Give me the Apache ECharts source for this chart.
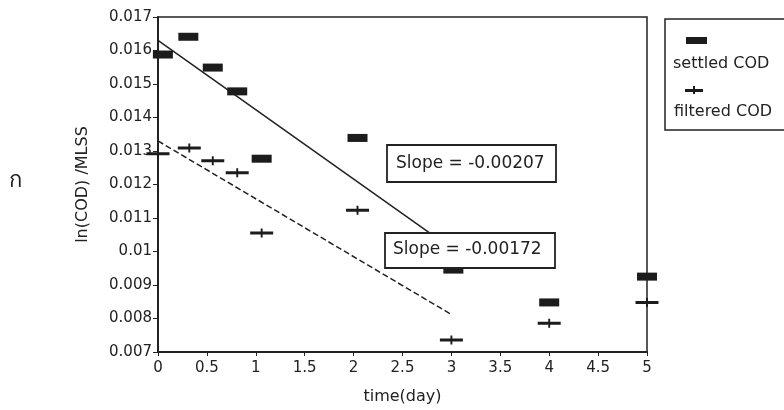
<!DOCTYPE html>
<html>
<head>
<meta charset="utf-8">
<script src="https://cdn.jsdelivr.net/npm/echarts@6/dist/echarts.min.js"></script>
<style>
  html, body { margin: 0; padding: 0; background: #fff; }
  #chart { width: 784px; height: 410px; }
</style>
</head>
<body>
<div id="chart"></div>
<script>
// data
var settledTime = [0.05, 0.31, 0.56, 0.81, 1.06, 2.04, 3.02, 4, 5];
var settledVal = [0.01588, 0.01641, 0.01549, 0.01478, 0.01277, 0.01339, 0.00946, 0.00848, 0.00925];
var filteredTime = [0, 0.32, 0.56, 0.81, 1.06, 2.04, 3, 4, 5];
var filteredVal = [0.01292, 0.01309, 0.01271, 0.01235, 0.01055, 0.01123, 0.00736, 0.00786, 0.00848];
// fitted lines, start and end
var settledFitX = [0, 3];
var settledFitY = [0.0163, 0.01009];
var filteredFitX = [0, 3];
var filteredFitY = [0.0133, 0.00812];
var slopeLabels = ['Slope = -0.00207', 'Slope = -0.00172'];
var legendNames = ['settled COD', 'filtered COD'];

var FONT = "'DejaVu Sans', sans-serif";
var crossPath = 'path://M0,4 L24,4 L24,7 L0,7 Z M11,1 L13,1 L13,10 L11,10 Z';

function pairs(xs, ys) {
	var out = [];
	for (var i = 0; i < xs.length; i++) {
		out.push([xs[i], ys[i]]);
	}
	return out;
}

var chart = echarts.init(document.getElementById('chart'));

var option = {
	animation: false,
	backgroundColor: '#fff',
	grid: {
		left: 158,
		right: 137,
		top: 17,
		bottom: 57,
		show: true,
		borderColor: '#222',
		borderWidth: 1.5,
		backgroundColor: 'transparent'
	},
	xAxis: {
		type: 'value',
		min: 0,
		max: 5,
		interval: 0.5,
		name: 'time(day)',
		nameLocation: 'middle',
		nameGap: 37,
		nameTextStyle: { color: '#222', fontFamily: FONT, fontSize: 16 },
		axisLine: { lineStyle: { color: '#222', width: 2 } },
		axisTick: { length: 4, lineStyle: { color: '#222' } },
		axisLabel: { color: '#222', fontFamily: FONT, fontSize: 15, margin: 9 },
		splitLine: { show: false }
	},
	yAxis: {
		type: 'value',
		min: 0.007,
		max: 0.017,
		interval: 0.001,
		name: 'ln(COD) /MLSS',
		nameLocation: 'middle',
		nameGap: 67,
		nameTextStyle: { color: '#222', fontFamily: FONT, fontSize: 16 },
		axisLine: { lineStyle: { color: '#222', width: 2 } },
		axisTick: { length: 5, lineStyle: { color: '#222' } },
		axisLabel: {
			color: '#222', fontFamily: FONT, fontSize: 15, margin: 6,
			formatter: function (v) { return String(+v.toFixed(3)); }
		},
		splitLine: { show: false }
	},
	series: [{
		name: 'settled fit',
		type: 'line',
		data: pairs(settledFitX, settledFitY),
		symbol: 'none',
		lineStyle: { color: '#222', width: 1.5 },
		z: 1
	}, {
		name: 'filtered fit',
		type: 'line',
		data: pairs(filteredFitX, filteredFitY),
		symbol: 'none',
		lineStyle: { color: '#222', width: 1.5, type: [6, 3] },
		z: 1
	}, {
		name: legendNames[0],
		type: 'scatter',
		data: pairs(settledTime, settledVal),
		symbol: 'rect',
		symbolSize: [20, 8],
		itemStyle: { color: '#1c1c1c', opacity: 1 },
		z: 3
	}, {
		name: legendNames[1],
		type: 'scatter',
		data: pairs(filteredTime, filteredVal),
		symbol: crossPath,
		symbolSize: [23, 9],
		itemStyle: { color: '#1c1c1c', opacity: 1 },
		z: 3
	}],
	graphic: [
		{
			type: 'group', x: 387, y: 145, z: 10,
			children: [
				{ type: 'rect', z: 10, shape: { x: 0, y: 0, width: 169, height: 37 },
				  style: { fill: '#fff', stroke: '#222', lineWidth: 1.8 } },
				{ type: 'text', z: 11, x: 9, y: 10,
				  style: { text: slopeLabels[0], fill: '#222', font: '17px ' + FONT } }
			]
		},
		{
			type: 'group', x: 385, y: 233, z: 10,
			children: [
				{ type: 'rect', z: 10, shape: { x: 0, y: 0, width: 170, height: 35 },
				  style: { fill: '#fff', stroke: '#222', lineWidth: 1.8 } },
				{ type: 'text', z: 11, x: 8, y: 8,
				  style: { text: slopeLabels[1], fill: '#222', font: '17px ' + FONT } }
			]
		},
		{
			type: 'group', x: 665, y: 19, z: 10,
			children: [
				{ type: 'rect', z: 10, shape: { x: 0, y: 0, width: 130, height: 111 },
				  style: { fill: '#fff', stroke: '#222', lineWidth: 1.5 } },
				{ type: 'rect', z: 11, shape: { x: 21, y: 18, width: 21, height: 7 },
				  style: { fill: '#1c1c1c' } },
				{ type: 'text', z: 11, x: 8, y: 37,
				  style: { text: legendNames[0], fill: '#222', font: '16px ' + FONT } },
				{ type: 'rect', z: 11, shape: { x: 20, y: 70, width: 18, height: 3 },
				  style: { fill: '#1c1c1c' } },
				{ type: 'rect', z: 11, shape: { x: 28, y: 67, width: 2, height: 8 },
				  style: { fill: '#1c1c1c' } },
				{ type: 'text', z: 11, x: 9, y: 85,
				  style: { text: legendNames[1], fill: '#222', font: '16px ' + FONT } }
			]
		},
		{
			type: 'text', x: 9, y: 170,
			style: { text: 'ก', fill: '#222', font: '22px ' + FONT }
		}
	]
};

chart.setOption(option);
</script>
</body>
</html>
